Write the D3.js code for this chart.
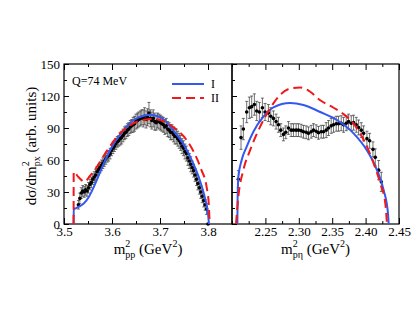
<!DOCTYPE html>
<html>
<head>
<meta charset="utf-8">
<script src="https://cdn.jsdelivr.net/npm/d3@7"></script>
<style>
  body { margin: 0; background: #fff; }
</style>
</head>
<body>
<div id="chart"></div>
<script>
// --- Data ---
// Left panel: m^2_pp data points (x, value, error)
const ppX = [3.530,3.533,3.536,3.539,3.542,3.545,3.548,3.551,3.554,3.557,3.560,3.563,3.566,3.569,3.572,3.575,3.578,3.581,3.584,3.587,3.590,3.593,3.596,3.599,3.602,3.605,3.608,3.611,3.614,3.617,3.620,3.623,3.626,3.629,3.632,3.635,3.638,3.641,3.644,3.647,3.650,3.653,3.656,3.659,3.662,3.665,3.668,3.671,3.674,3.677,3.680,3.683,3.686,3.689,3.692,3.695,3.698,3.701,3.704,3.707,3.710,3.713,3.716,3.719,3.722,3.725,3.728,3.731,3.734,3.737,3.740,3.743,3.746,3.749,3.752,3.755,3.758,3.761,3.764,3.767,3.770,3.773,3.776,3.779,3.782,3.785,3.788,3.791,3.794,3.797,3.800];
const ppY = [18,24,29,31,30,32,31,34,37,39,42,44,46,49,51,53,55,57,59,61,63,64,66,69,71,73,75,77,78,80,81,83,85,86,88,89,91,92,93,94,96,97,98,99,100,99,101,98,100,104,99,97,99,96,95,97,96,95,94,93,91,92,89,88,86,86,84,82,82,80,78,76,73,71,68,66,62,59,56,53,50,46,42,38,34,30,26,22,18,14,0];
const ppErr = [4,5,5,5,5,5,5,5,5,5,5,5,5,5,5,5,5,5,5,5,5,5,5,5,5,5,5,5,5,6,6,6,6,6,6,6,6,6,7,7,7,7,7,7,7,8,8,8,8,10,8,8,8,8,7,7,7,7,7,7,7,7,7,7,7,7,7,7,7,7,7,7,7,7,7,7,7,7,7,6,6,6,6,6,6,6,6,6,5,5,0];

// Right panel: m^2_p-eta data points
const petaX = [2.2095,2.2135,2.2170,2.2220,2.2260,2.2295,2.2335,2.2370,2.2410,2.2455,2.2495,2.2545,2.2580,2.2620,2.2660,2.2695,2.2730,2.2770,2.2805,2.2845,2.2885,2.2920,2.2960,2.2995,2.3035,2.3070,2.3110,2.3145,2.3185,2.3220,2.3260,2.3295,2.3335,2.3370,2.3410,2.3445,2.3485,2.3520,2.3560,2.3595,2.3635,2.3670,2.3710,2.3745,2.3785,2.3820,2.3860,2.3895,2.3935,2.3970,2.4020,2.4060,2.4110,2.4145,2.4195,2.4235];
const petaY = [42,81,89,105,109,110,112,106,105,109,105,104,101,99,96,93,88,84,86,90,88,88,88,88,87.5,86.5,86,85,86.5,88,87,85.5,86.5,86.5,88,90,92,93,94,94,94.5,93,94.5,96,94.5,95,93,90.5,88,85,80,78,70,62.5,50.5,39.5];
const petaErr = [8,11,10,10,10,10,10,9,9,9,8,8,8,7,7,7,6,6,6,6,6,6,6,6,6,6,6,6,6,6,6,6,6,6,7,7,7,7,7,7,7,7,7,7,7,7,7,7,7,7,7,7,7,8,9,9];

// Model curves, left panel
const ppIX = [3.5200,3.5203,3.5243,3.5312,3.5416,3.552,3.5624,3.5728,3.5832,3.604,3.6247,3.6455,3.6663,3.680,3.695,3.710,3.727,3.748,3.769,3.783,3.793,3.800,3.802];
const ppIY = [0,14,14.7,16.2,19.4,25.6,35,46,57,75.6,88,97.5,101.5,102.5,101,97,88,75.6,57,41,25.6,10,0];
const ppIIX = [3.5200,3.5202,3.530,3.543,3.554,3.566,3.590,3.611,3.6387,3.6663,3.683,3.6996,3.727,3.755,3.772,3.786,3.797,3.8015,3.8035];
const ppIIY = [0,49,44,39.7,45,52,69,82,93,97.5,98.5,97.5,91,79,66,51,35,19.4,0];

// Model curves, right panel
const petaIX = [2.2080,2.2083,2.2095,2.2145,2.222,2.232,2.247,2.262,2.287,2.307,2.332,2.357,2.382,2.402,2.417,2.427,2.4335,2.4345];
const petaIY = [0,20,44,60,72.5,86.5,100.6,109.4,113.5,111.6,105,97.5,85,69,50.6,32,10,0];
const petaIIX = [2.2060,2.2095,2.217,2.227,2.242,2.257,2.272,2.287,2.302,2.317,2.332,2.352,2.367,2.382,2.397,2.412,2.422,2.4295,2.4320];
const petaIIY = [0,25.6,50.6,69,91,108.4,121,127,128,124,116,109,103,94,79,57,38,19.4,0];

// Ticks
const yMajor = [0, 30, 60, 90, 120, 150];
const yMinor = [15, 45, 75, 105, 135];
const ppMajor = [3.5, 3.6, 3.7, 3.8];
const ppMinor = [3.55, 3.65, 3.75, 3.85];
const petaMajor = [2.25, 2.30, 2.35, 2.40, 2.45];
const petaMinor = [2.225, 2.275, 2.325, 2.375, 2.425];

// --- Layout ---
const width = 415, height = 321;
const xL = 64, xM = 232, xR = 399, yTop = 64, yBot = 224;
const blue = "#3358f0", red = "#f01818";
const serif = "'Liberation Serif', 'Times New Roman', 'DejaVu Serif', serif";

const svg = d3.select("#chart").append("svg")
    .attr("width", width)
    .attr("height", height)
    .attr("font-family", serif);

const y = d3.scaleLinear().domain([0, 150]).range([yBot, yTop]);
const xPP = d3.scaleLinear().domain([3.5, 3.85]).range([xL, xM]);
const xPeta = d3.scaleLinear().domain([2.2, 2.45]).range([xM, xR]);

// Ticks pointing inward, labels only where asked
function addAxis(g, axis, tx, ty) {
    g.append("g")
        .attr("transform", `translate(${tx},${ty})`)
        .call(axis)
        .call(a => a.select(".domain").remove())
        .call(a => a.attr("font-family", serif).attr("font-size", 13))
        .call(a => a.selectAll(".tick line").attr("stroke", "#000"));
}

function drawPanel(x, major, minor, fmt, showY) {
    const g = svg.append("g");
    const x0 = x.range()[0];

    addAxis(g, d3.axisBottom(x).tickValues(major).tickSizeInner(-6).tickSizeOuter(0)
        .tickPadding(3).tickFormat(fmt), 0, yBot);
    addAxis(g, d3.axisBottom(x).tickValues(minor).tickSizeInner(-3).tickSizeOuter(0)
        .tickFormat(""), 0, yBot);
    addAxis(g, d3.axisTop(x).tickValues(major).tickSizeInner(-6).tickSizeOuter(0)
        .tickFormat(""), 0, yTop);
    addAxis(g, d3.axisTop(x).tickValues(minor).tickSizeInner(-3).tickSizeOuter(0)
        .tickFormat(""), 0, yTop);
    addAxis(g, d3.axisLeft(y).tickValues(yMajor).tickSizeInner(-5).tickSizeOuter(0)
        .tickPadding(4).tickFormat(showY ? d3.format("d") : ""), x0, 0);
    addAxis(g, d3.axisLeft(y).tickValues(yMinor).tickSizeInner(-3).tickSizeOuter(0)
        .tickFormat(""), x0, 0);
    return g;
}

drawPanel(xPP, ppMajor, ppMinor, d3.format(".1f"), true);
drawPanel(xPeta, petaMajor, petaMinor, d3.format(".2f"), false);

// Frames
[[xL, xM], [xM, xR]].forEach(([a, b]) => {
    svg.append("rect")
        .attr("x", a).attr("y", yTop)
        .attr("width", b - a).attr("height", yBot - yTop)
        .attr("fill", "none").attr("stroke", "#000").attr("stroke-width", 1.2);
});

// Data points with error bars
function drawData(x, xs, ys, errs) {
    const pts = xs.map((d, i) => ({x: d, y: ys[i], e: errs[i]}));
    const g = svg.append("g");
    const bars = g.selectAll("g").data(pts).join("g")
        .attr("stroke", "#333").attr("stroke-width", 0.7);
    bars.append("line")
        .attr("x1", d => x(d.x)).attr("x2", d => x(d.x))
        .attr("y1", d => y(d.y - d.e)).attr("y2", d => y(d.y + d.e));
    bars.append("line")
        .attr("x1", d => x(d.x) - 1.5).attr("x2", d => x(d.x) + 1.5)
        .attr("y1", d => y(d.y + d.e)).attr("y2", d => y(d.y + d.e));
    bars.append("line")
        .attr("x1", d => x(d.x) - 1.5).attr("x2", d => x(d.x) + 1.5)
        .attr("y1", d => y(d.y - d.e)).attr("y2", d => y(d.y - d.e));
    g.selectAll("circle").data(pts).join("circle")
        .attr("cx", d => x(d.x)).attr("cy", d => y(d.y))
        .attr("r", 1.8).attr("fill", "#000");
}

// Curves
function drawCurve(x, xs, ys, color, dash) {
    const line = d3.line()
        .x(d => x(d[0]))
        .y(d => y(d[1]))
        .curve(d3.curveMonotoneX);
    svg.append("path")
        .datum(xs.map((d, i) => [d, ys[i]]))
        .attr("fill", "none")
        .attr("stroke", color)
        .attr("stroke-width", 2)
        .attr("stroke-dasharray", dash)
        .attr("d", line);
}

drawData(xPP, ppX, ppY, ppErr);
drawData(xPeta, petaX, petaY, petaErr);
drawCurve(xPP, ppIX, ppIY, blue, null);
drawCurve(xPP, ppIIX, ppIIY, red, "9,5");
drawCurve(xPeta, petaIX, petaIY, blue, null);
drawCurve(xPeta, petaIIX, petaIIY, red, "9,5");

// Legend
svg.append("text")
    .attr("x", 72).attr("y", 85)
    .attr("font-size", 12)
    .text("Q=74 MeV");
const legendKeys = [
    {name: "I", color: blue, dash: null, y: 84},
    {name: "II", color: red, dash: "9,5", y: 98}
];
const leg = svg.append("g").selectAll("g").data(legendKeys).join("g");
leg.append("line")
    .attr("x1", 172).attr("x2", 204)
    .attr("y1", d => d.y).attr("y2", d => d.y)
    .attr("stroke", d => d.color)
    .attr("stroke-width", 2)
    .attr("stroke-dasharray", d => d.dash);
leg.append("text")
    .attr("x", 211).attr("y", d => d.y + 4)
    .attr("font-size", 12)
    .text(d => d.name);

// Axis titles
const yTitle = svg.append("text")
    .attr("transform", `translate(36,146) rotate(-90)`)
    .attr("text-anchor", "middle")
    .attr("font-size", 15);
yTitle.append("tspan").text("dσ/dm");
yTitle.append("tspan").attr("font-size", 10).attr("dy", -7).text("2");
yTitle.append("tspan").attr("font-size", 10).attr("dx", -5).attr("dy", 11).text("px");
yTitle.append("tspan").attr("dy", -4).text(" (arb. units)");

function xTitle(cx, sub) {
    const t = svg.append("text")
        .attr("x", cx).attr("y", 254)
        .attr("text-anchor", "middle")
        .attr("font-size", 15);
    t.append("tspan").text("m");
    t.append("tspan").attr("font-size", 10).attr("dy", -7).text("2");
    t.append("tspan").attr("font-size", 10).attr("dx", -5).attr("dy", 11).text(sub);
    t.append("tspan").attr("dy", -4).text(" (GeV");
    t.append("tspan").attr("font-size", 10).attr("dy", -7).text("2");
    t.append("tspan").attr("dy", 7).text(")");
}
xTitle((xL + xM) / 2, "pp");
xTitle((xM + xR) / 2, "pη");
</script>
</body>
</html>
